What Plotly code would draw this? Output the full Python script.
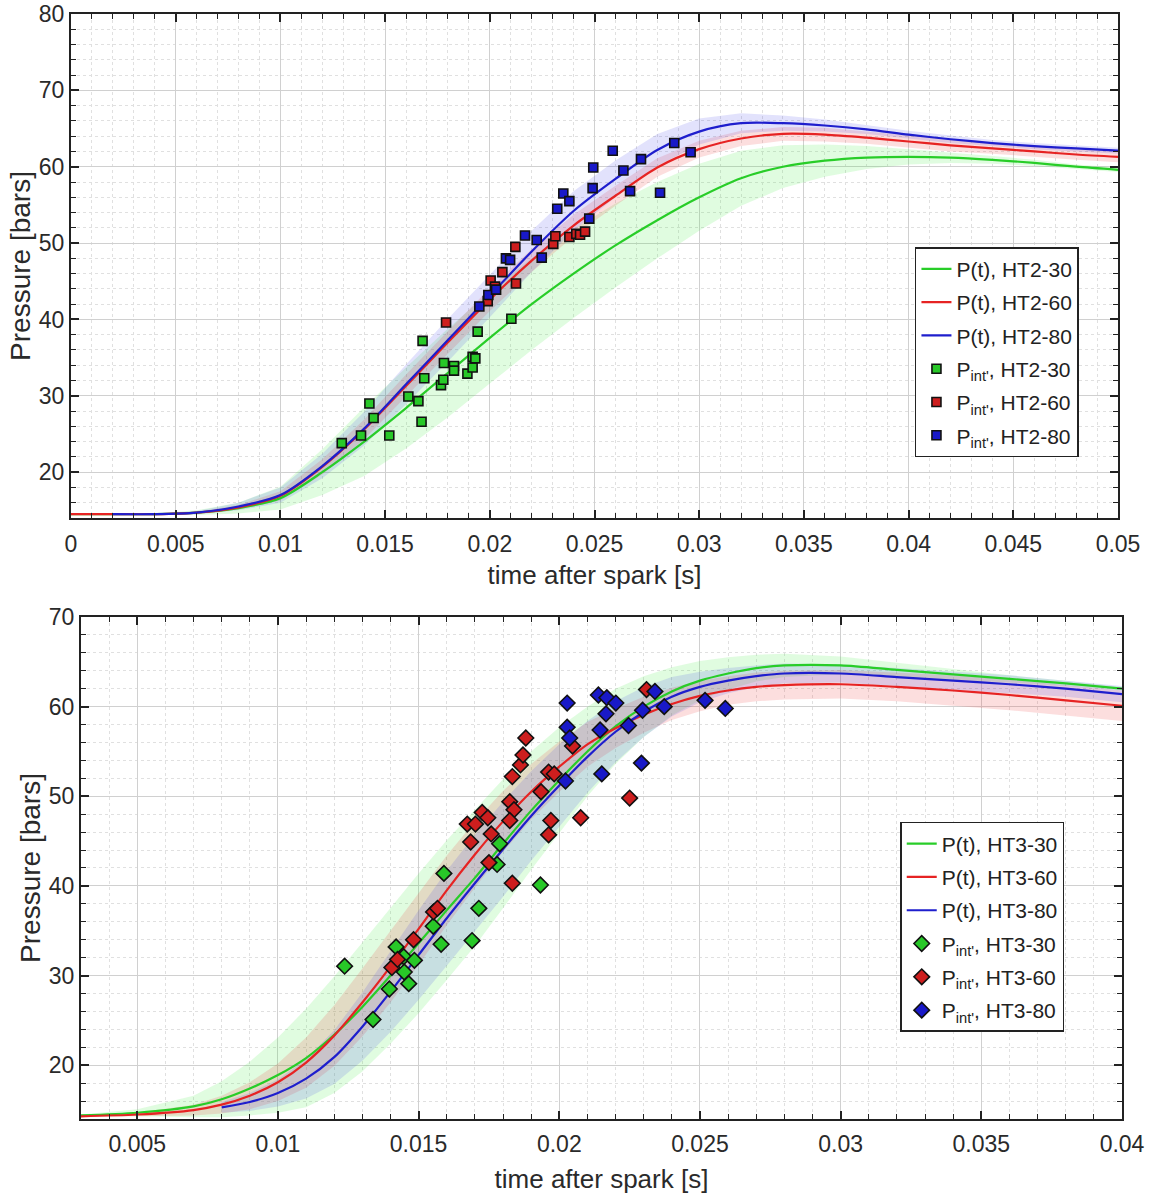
import plotly.graph_objects as go

# ---------------- Top panel (HT2) ----------------
t_top = [0.000, 0.002, 0.004, 0.006, 0.008, 0.010, 0.012, 0.014, 0.016, 0.018,
         0.020, 0.022, 0.024, 0.026, 0.028, 0.030, 0.032, 0.034, 0.036, 0.038,
         0.040, 0.042, 0.044, 0.046, 0.048, 0.050]
p_ht2_30 = [14.5, 14.5, 14.5, 14.7, 15.3, 16.6, 20.0, 24.0, 28.4, 33.0,
            37.6, 42.0, 46.0, 49.7, 53.0, 56.0, 58.5, 60.0, 60.8, 61.2,
            61.3, 61.2, 60.9, 60.5, 60.0, 59.6]
p_ht2_60 = [14.5, 14.5, 14.5, 14.7, 15.4, 16.9, 20.7, 25.6, 31.3, 37.0,
            42.6, 47.7, 52.3, 56.2, 59.9, 62.3, 63.7, 64.3, 64.2, 63.8,
            63.3, 62.8, 62.4, 62.0, 61.6, 61.3]
p_ht2_80 = [None, 14.5, 14.5, 14.7, 15.5, 17.0, 20.8, 25.7, 31.5, 37.3,
            43.1, 48.9, 54.2, 58.4, 62.2, 64.6, 65.7, 65.7, 65.4, 64.9,
            64.2, 63.6, 63.1, 62.7, 62.4, 62.1]
hw_ht2_30 = [0, 0, 0.1, 0.3, 0.7, 1.5, 3.0, 4.5, 5.3, 5.8, 6.0, 6.0, 5.8, 5.5,
             5.0, 4.4, 3.6, 2.8, 2.1, 1.5, 1.0, 0.7, 0.5, 0.4, 0.3, 0.3]
hw_ht2_60 = [0, 0, 0, 0.1, 0.3, 0.6, 1.0, 1.3, 1.5, 1.5, 1.5, 1.5, 1.4, 1.3,
             1.2, 1.1, 1.0, 0.9, 0.9, 0.8, 0.8, 0.8, 0.7, 0.7, 0.7, 0.7]
hw_ht2_80 = [None, 0, 0, 0.2, 0.5, 1.0, 1.6, 2.2, 2.6, 2.8, 2.8, 2.7, 2.6, 2.4,
             2.1, 1.7, 1.3, 1.0, 0.8, 0.6, 0.5, 0.5, 0.4, 0.4, 0.4, 0.4]

pint_ht2_30_t = [0.01293, 0.01385, 0.01425, 0.01445, 0.0152, 0.01611, 0.01659, 0.01674,
                 0.01679, 0.01687, 0.01767, 0.01778, 0.01781, 0.01829, 0.01829, 0.01893,
                 0.01918, 0.01918, 0.01931, 0.01942, 0.02103]
pint_ht2_30_p = [23.8, 24.8, 29.0, 27.1, 24.8, 29.9, 29.3, 26.6,
                 37.2, 32.3, 31.4, 32.1, 34.3, 33.9, 33.3, 32.9,
                 33.7, 35.1, 34.9, 38.4, 40.1]
pint_ht2_60_t = [0.01791, 0.0199, 0.02004, 0.02025, 0.0206, 0.02122, 0.02125, 0.02303,
                 0.02313, 0.0238, 0.02413, 0.02431, 0.02455]
pint_ht2_60_p = [39.6, 42.4, 45.1, 44.3, 46.2, 49.5, 44.7, 49.9,
                 50.9, 50.8, 51.2, 51.1, 51.5]
pint_ht2_80_t = [0.0195, 0.01993, 0.0203, 0.02077, 0.02097, 0.02168, 0.02224, 0.02248,
                 0.02322, 0.02351, 0.0238, 0.02475, 0.02491, 0.02494, 0.02587, 0.02638,
                 0.0267, 0.02722, 0.02813, 0.02881, 0.02959]
pint_ht2_80_p = [41.7, 43.2, 43.9, 48.0, 47.8, 51.0, 50.4, 48.1,
                 54.5, 56.5, 55.5, 53.2, 57.2, 59.9, 62.1, 59.5,
                 56.8, 61.0, 56.6, 63.1, 61.9]

# ---------------- Bottom panel (HT3) ----------------
t_bot = [0.003, 0.005, 0.007, 0.008, 0.009, 0.010, 0.011, 0.012, 0.013, 0.014,
         0.015, 0.016, 0.017, 0.018, 0.019, 0.020, 0.021, 0.022, 0.023, 0.024,
         0.025, 0.026, 0.027, 0.028, 0.030, 0.032, 0.034, 0.036, 0.038, 0.040]
p_ht3_30 = [14.4, 14.7, 15.4, 16.2, 17.4, 18.9, 20.8, 23.4, 26.5, 30.0,
            33.6, 37.3, 40.9, 44.7, 48.4, 51.8, 55.0, 57.8, 60.0, 61.7,
            62.9, 63.7, 64.3, 64.6, 64.6, 64.1, 63.6, 63.1, 62.6, 62.0]
p_ht3_60 = [14.3, 14.5, 15.0, 15.6, 16.6, 18.1, 20.3, 23.3, 27.0, 31.0,
            35.2, 39.5, 43.5, 47.2, 50.5, 53.3, 55.8, 57.6, 59.1, 60.3,
            61.2, 61.8, 62.2, 62.4, 62.5, 62.2, 61.8, 61.3, 60.7, 60.1]
p_ht3_80 = [None, None, None, 15.3, 15.9, 16.9, 18.5, 20.9, 24.3, 28.2,
            32.3, 36.4, 40.3, 44.1, 47.8, 51.2, 54.4, 57.2, 59.4, 61.1,
            62.2, 62.9, 63.4, 63.7, 63.7, 63.3, 62.9, 62.5, 62.0, 61.4]
hw_ht3_30 = [0.1, 0.4, 1.2, 2.0, 3.0, 4.2, 5.5, 6.5, 7.2, 7.6, 7.8, 7.8, 7.6, 7.2,
             6.6, 5.9, 5.0, 4.2, 3.4, 2.7, 2.2, 1.8, 1.5, 1.3, 1.0, 0.8, 0.6, 0.4, 0.3, 0.2]
hw_ht3_60 = [0.0, 0.2, 0.6, 1.0, 1.5, 2.1, 2.8, 3.4, 3.8, 4.0, 4.0, 3.9, 3.7, 3.4,
             3.1, 2.8, 2.5, 2.2, 2.0, 1.8, 1.7, 1.6, 1.6, 1.6, 1.6, 1.6, 1.7, 1.7, 1.7, 1.7]
hw_ht3_80 = [None, None, None, 0.6, 1.0, 1.5, 2.2, 3.0, 3.8, 4.5, 5.0, 5.3, 5.4, 5.3,
             5.0, 4.6, 4.0, 3.4, 2.8, 2.2, 1.7, 1.4, 1.2, 1.1, 1.0, 1.0, 1.0, 1.0, 0.9, 0.9]

pint_ht3_30_t = [0.01237, 0.01338, 0.01396, 0.0142, 0.01447, 0.01449, 0.01465, 0.01485,
                 0.01552, 0.0158, 0.0159, 0.0169, 0.01714, 0.01779, 0.01788, 0.01933]
pint_ht3_30_p = [31.05, 25.1, 28.5, 33.2, 32.1, 30.4, 29.1, 31.7,
                 35.5, 33.5, 41.4, 33.9, 37.5, 42.4, 44.7, 40.1]
pint_ht3_60_t = [0.01405, 0.01425, 0.01482, 0.01553, 0.01567, 0.01673, 0.01685, 0.01702,
                 0.01726, 0.01746, 0.01758, 0.0175, 0.01824, 0.01839, 0.01824, 0.01833,
                 0.01862, 0.01871, 0.01881, 0.01833, 0.01935, 0.01962, 0.0197, 0.01962,
                 0.01982, 0.02047, 0.02076, 0.0225, 0.0231]
pint_ht3_60_p = [30.9, 31.8, 34.0, 37.1, 37.5, 46.9, 44.9, 46.9,
                 48.2, 47.6, 45.8, 42.6, 49.4, 48.5, 47.3, 52.2,
                 53.5, 54.6, 56.5, 40.3, 50.5, 52.7, 47.3, 45.7,
                 52.5, 55.6, 47.6, 49.8, 61.9]
pint_ht3_80_t = [0.02028, 0.02028, 0.02037, 0.02022, 0.02139, 0.02169, 0.02201, 0.02166,
                 0.02145, 0.02151, 0.02246, 0.02292, 0.02296, 0.0234, 0.02373, 0.02518, 0.0259]
pint_ht3_80_p = [60.4, 57.7, 56.5, 51.7, 61.3, 61.0, 60.4, 59.2,
                 57.4, 52.5, 57.9, 53.7, 59.6, 61.7, 60.0, 60.7, 59.8]

# tick labels
top_xticks = [0, 0.005, 0.01, 0.015, 0.02, 0.025, 0.03, 0.035, 0.04, 0.045, 0.05]
top_xtext = ["0", "0.005", "0.01", "0.015", "0.02", "0.025", "0.03", "0.035", "0.04", "0.045", "0.05"]
bot_xticks = [0.005, 0.01, 0.015, 0.02, 0.025, 0.03, 0.035, 0.04]
bot_xtext = ["0.005", "0.01", "0.015", "0.02", "0.025", "0.03", "0.035", "0.04"]

# ---------------- styles ----------------
LINE_COL = {"30": "rgb(40,205,40)", "60": "rgb(230,35,35)", "80": "rgb(30,30,205)"}
BAND_COL = {"30": "rgba(60,235,60,0.16)", "60": "rgba(235,60,60,0.17)", "80": "rgba(60,60,235,0.15)"}
MARK_COL = {"30": "rgb(40,200,40)", "60": "rgb(205,30,30)", "80": "rgb(25,25,200)"}
FONT = "Arial, Liberation Sans, sans-serif"

fig = go.Figure()


def add_band(t, p, hw, key, xa, ya):
    xs, up, lo = [], [], []
    for ti, pi, hi in zip(t, p, hw):
        if pi is None or hi is None:
            continue
        xs.append(ti)
        up.append(pi + hi)
        lo.append(pi - hi)
    fig.add_trace(go.Scatter(x=xs + xs[::-1], y=up + lo[::-1], fill="toself",
                             fillcolor=BAND_COL[key], line=dict(width=0),
                             mode="lines", hoverinfo="skip", showlegend=False,
                             xaxis=xa, yaxis=ya))


add_band(t_top, p_ht2_30, hw_ht2_30, "30", "x", "y")
add_band(t_top, p_ht2_60, hw_ht2_60, "60", "x", "y")
add_band(t_top, p_ht2_80, hw_ht2_80, "80", "x", "y")
add_band(t_bot, p_ht3_30, hw_ht3_30, "30", "x2", "y2")
add_band(t_bot, p_ht3_60, hw_ht3_60, "60", "x2", "y2")
add_band(t_bot, p_ht3_80, hw_ht3_80, "80", "x2", "y2")

for key, p in (("30", p_ht2_30), ("60", p_ht2_60), ("80", p_ht2_80)):
    fig.add_trace(go.Scatter(x=t_top, y=p, mode="lines",
                             line=dict(color=LINE_COL[key], width=2.2, shape="spline", smoothing=0.8),
                             name=f"P(t), HT2-{key}", legendgroup=f"l2{key}",
                             xaxis="x", yaxis="y", legend="legend"))
for key, tt, pp in (("30", pint_ht2_30_t, pint_ht2_30_p), ("60", pint_ht2_60_t, pint_ht2_60_p),
                    ("80", pint_ht2_80_t, pint_ht2_80_p)):
    fig.add_trace(go.Scatter(x=tt, y=pp, mode="markers",
                             marker=dict(symbol="square", size=9, color=MARK_COL[key],
                                         line=dict(color="#111", width=1.6)),
                             name=f"P<sub>int'</sub>, HT2-{key}", legendgroup=f"m2{key}",
                             xaxis="x", yaxis="y", legend="legend"))

for key, p in (("30", p_ht3_30), ("60", p_ht3_60), ("80", p_ht3_80)):
    fig.add_trace(go.Scatter(x=t_bot, y=p, mode="lines",
                             line=dict(color=LINE_COL[key], width=2.2, shape="spline", smoothing=0.8),
                             name=f"P(t), HT3-{key}", legendgroup=f"l3{key}",
                             xaxis="x2", yaxis="y2", legend="legend2"))
for key, tt, pp in (("30", pint_ht3_30_t, pint_ht3_30_p), ("60", pint_ht3_60_t, pint_ht3_60_p),
                    ("80", pint_ht3_80_t, pint_ht3_80_p)):
    fig.add_trace(go.Scatter(x=tt, y=pp, mode="markers",
                             marker=dict(symbol="diamond", size=12, color=MARK_COL[key],
                                         line=dict(color="#111", width=1.6)),
                             name=f"P<sub>int'</sub>, HT3-{key}", legendgroup=f"m3{key}",
                             xaxis="x2", yaxis="y2", legend="legend2"))

axis_common = dict(
    showline=True, linecolor="#222", linewidth=2, mirror="ticks",
    ticks="inside", ticklen=8, tickwidth=1.5, tickcolor="#222",
    showgrid=True, gridcolor="#d0d0d0", gridwidth=1.4,
    zeroline=False, ticklabeloverflow="allow",
    tickfont=dict(family=FONT, size=23, color="#2a2a2a"),
)


def minor(dt):
    return dict(dtick=dt, ticks="inside", ticklen=5, tickwidth=1.2, tickcolor="#222",
                showgrid=True, gridcolor="#e0e0e0", gridwidth=1, griddash="dot")


xtitle_font = dict(family=FONT, size=26, color="#2a2a2a")
ytitle_font = dict(family=FONT, size=28, color="#2a2a2a")
leg_font = dict(family=FONT, size=21, color="#222")

fig.update_layout(
    width=1149, height=1195,
    margin=dict(l=71, r=27, t=14, b=76, autoexpand=False),
    paper_bgcolor="white", plot_bgcolor="white",
    font=dict(family=FONT, color="#2a2a2a"),
    xaxis=dict(axis_common, domain=[0, 0.9962], range=[0, 0.05], anchor="y",
               tickvals=top_xticks, ticktext=top_xtext, minor=minor(0.001),
               ticklabelstandoff=4,
               title=dict(text="time after spark [s]", font=xtitle_font, standoff=10)),
    yaxis=dict(axis_common, domain=[0.5439, 1], range=[14, 80], anchor="x",
               tick0=20, dtick=10, minor=dict(minor(2), tick0=0),
               title=dict(text="Pressure [bars]", font=ytitle_font, standoff=0)),
    xaxis2=dict(axis_common, domain=[0.0095, 1], range=[0.003, 0.04], anchor="y2",
                tickvals=bot_xticks, ticktext=bot_xtext, minor=minor(0.001),
                ticklabelstandoff=3,
                title=dict(text="time after spark [s]", font=xtitle_font, standoff=14)),
    yaxis2=dict(axis_common, domain=[0, 0.4543], range=[14, 70], anchor="x2",
                tick0=20, dtick=10, minor=dict(minor(2), tick0=0),
                title=dict(text="Pressure [bars]", font=ytitle_font, standoff=0)),
    legend=dict(x=0.803, y=0.789, xanchor="left", yanchor="top",
                bgcolor="white", bordercolor="#222", borderwidth=1.5,
                font=leg_font, itemwidth=30, tracegroupgap=3),
    legend2=dict(x=0.789, y=0.2688, xanchor="left", yanchor="top",
                 bgcolor="white", bordercolor="#222", borderwidth=1.5,
                 font=leg_font, itemwidth=30, tracegroupgap=3),
)

# remove the page's default body margin so the figure sits at the window origin
fig.write_html("out.html", config={"displayModeBar": False},
               post_script="document.body.style.margin='0px';")
